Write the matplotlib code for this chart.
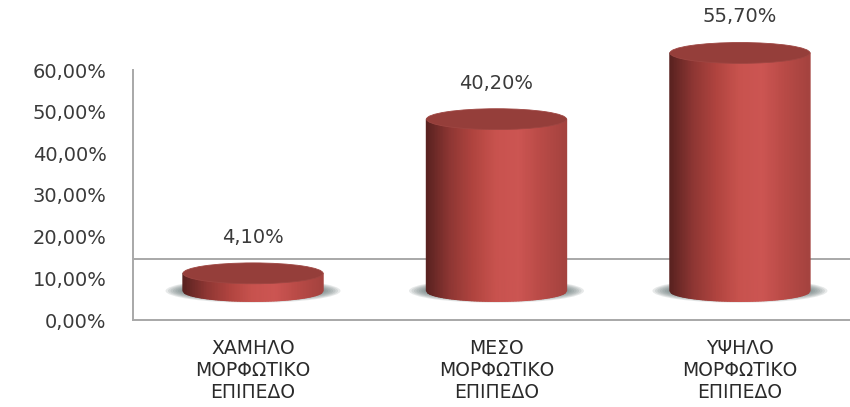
import numpy as np
import matplotlib
matplotlib.use("Agg")
from matplotlib import pyplot as plt
from matplotlib.patches import Ellipse
from matplotlib.collections import PolyCollection
from matplotlib.colors import LinearSegmentedColormap

categories = ["ΧΑΜΗΛΟ\nΜΟΡΦΩΤΙΚΟ\nΕΠΙΠΕΔΟ",
              "ΜΕΣΟ\nΜΟΡΦΩΤΙΚΟ\nΕΠΙΠΕΔΟ",
              "ΥΨΗΛΟ\nΜΟΡΦΩΤΙΚΟ\nΕΠΙΠΕΔΟ"]
values = [4.10, 40.20, 55.70]
yticks = [0, 10, 20, 30, 40, 50, 60]

# 3d look: bars stand on a front floor slightly above the wall's zero
floor = 7.0
front_scale = 1.025
floor_back = 14.6
bar_w = 0.575
rim = 2.5
n_strips = 90

side_cmap = LinearSegmentedColormap.from_list(
    "side", ["#5a2220", "#8e3633", "#b0443f", "#c8524e", "#cc5552", "#b84a46", "#a5433f"])

fig = plt.figure(figsize=(8.5, 4.07), dpi=100)
ax = fig.add_axes([133 / 850, 87 / 407, 717 / 850, 250 / 407])

for s in ["top", "right"]:
    ax.spines[s].set_visible(False)
for s in ["left", "bottom"]:
    ax.spines[s].set_color("#a8a8a8")
    ax.spines[s].set_linewidth(1.4)
ax.axhline(floor_back, color="#a8a8a8", lw=1.4, zorder=1)

for i, v in enumerate(values):
    ybot = floor
    ytop = floor + v * front_scale

    # soft shadow round the base
    for k in range(7):
        ax.add_patch(Ellipse((i, ybot), bar_w * (1.25 - k * 0.035), rim * (2.3 - k * 0.15),
                             facecolor="#5f7070", edgecolor="none", alpha=0.15,
                             zorder=2, clip_on=False))

    # side of the cylinder as thin shaded strips with a rounded bottom
    xs = np.linspace(i - bar_w / 2, i + bar_w / 2, n_strips + 1)
    u = (xs - i) / (bar_w / 2)
    ylow = ybot - rim * np.sqrt(np.clip(1 - u ** 2, 0, 1))
    strips = [[(xs[j], ytop), (xs[j], ylow[j]), (xs[j + 1], ylow[j + 1]), (xs[j + 1], ytop)]
              for j in range(n_strips)]
    shades = side_cmap(np.linspace(0, 1, n_strips))
    ax.add_collection(PolyCollection(strips, facecolors=shades, edgecolors=shades,
                                     linewidths=1.0, zorder=3, clip_on=False))

    ax.add_patch(Ellipse((i, ytop), bar_w, rim * 2, facecolor="#953e3a",
                         edgecolor="#9e4642", lw=0.6, zorder=4, clip_on=False))

    ax.annotate(f"{v:.2f}%".replace(".", ","), (i, ytop), xytext=(0, 26),
                textcoords="offset points", ha="center", va="center",
                fontsize=14, color="#3a3a3a", annotation_clip=False)

ax.set_xlim(-0.493, 2.452)
ax.set_ylim(0, 60)
ax.set_xticks(range(len(categories)))
ax.set_xticklabels(categories, fontsize=13.5, color="#2a2a2a", linespacing=1.2)
ax.set_yticks(yticks)
ax.set_yticklabels([f"{t:.2f}%".replace(".", ",") for t in yticks],
                   fontsize=14, color="#3a3a3a")
ax.tick_params(axis="both", length=0)
ax.tick_params(axis="y", pad=19)
ax.tick_params(axis="x", pad=14)

fig.savefig("out.png", dpi=100)
